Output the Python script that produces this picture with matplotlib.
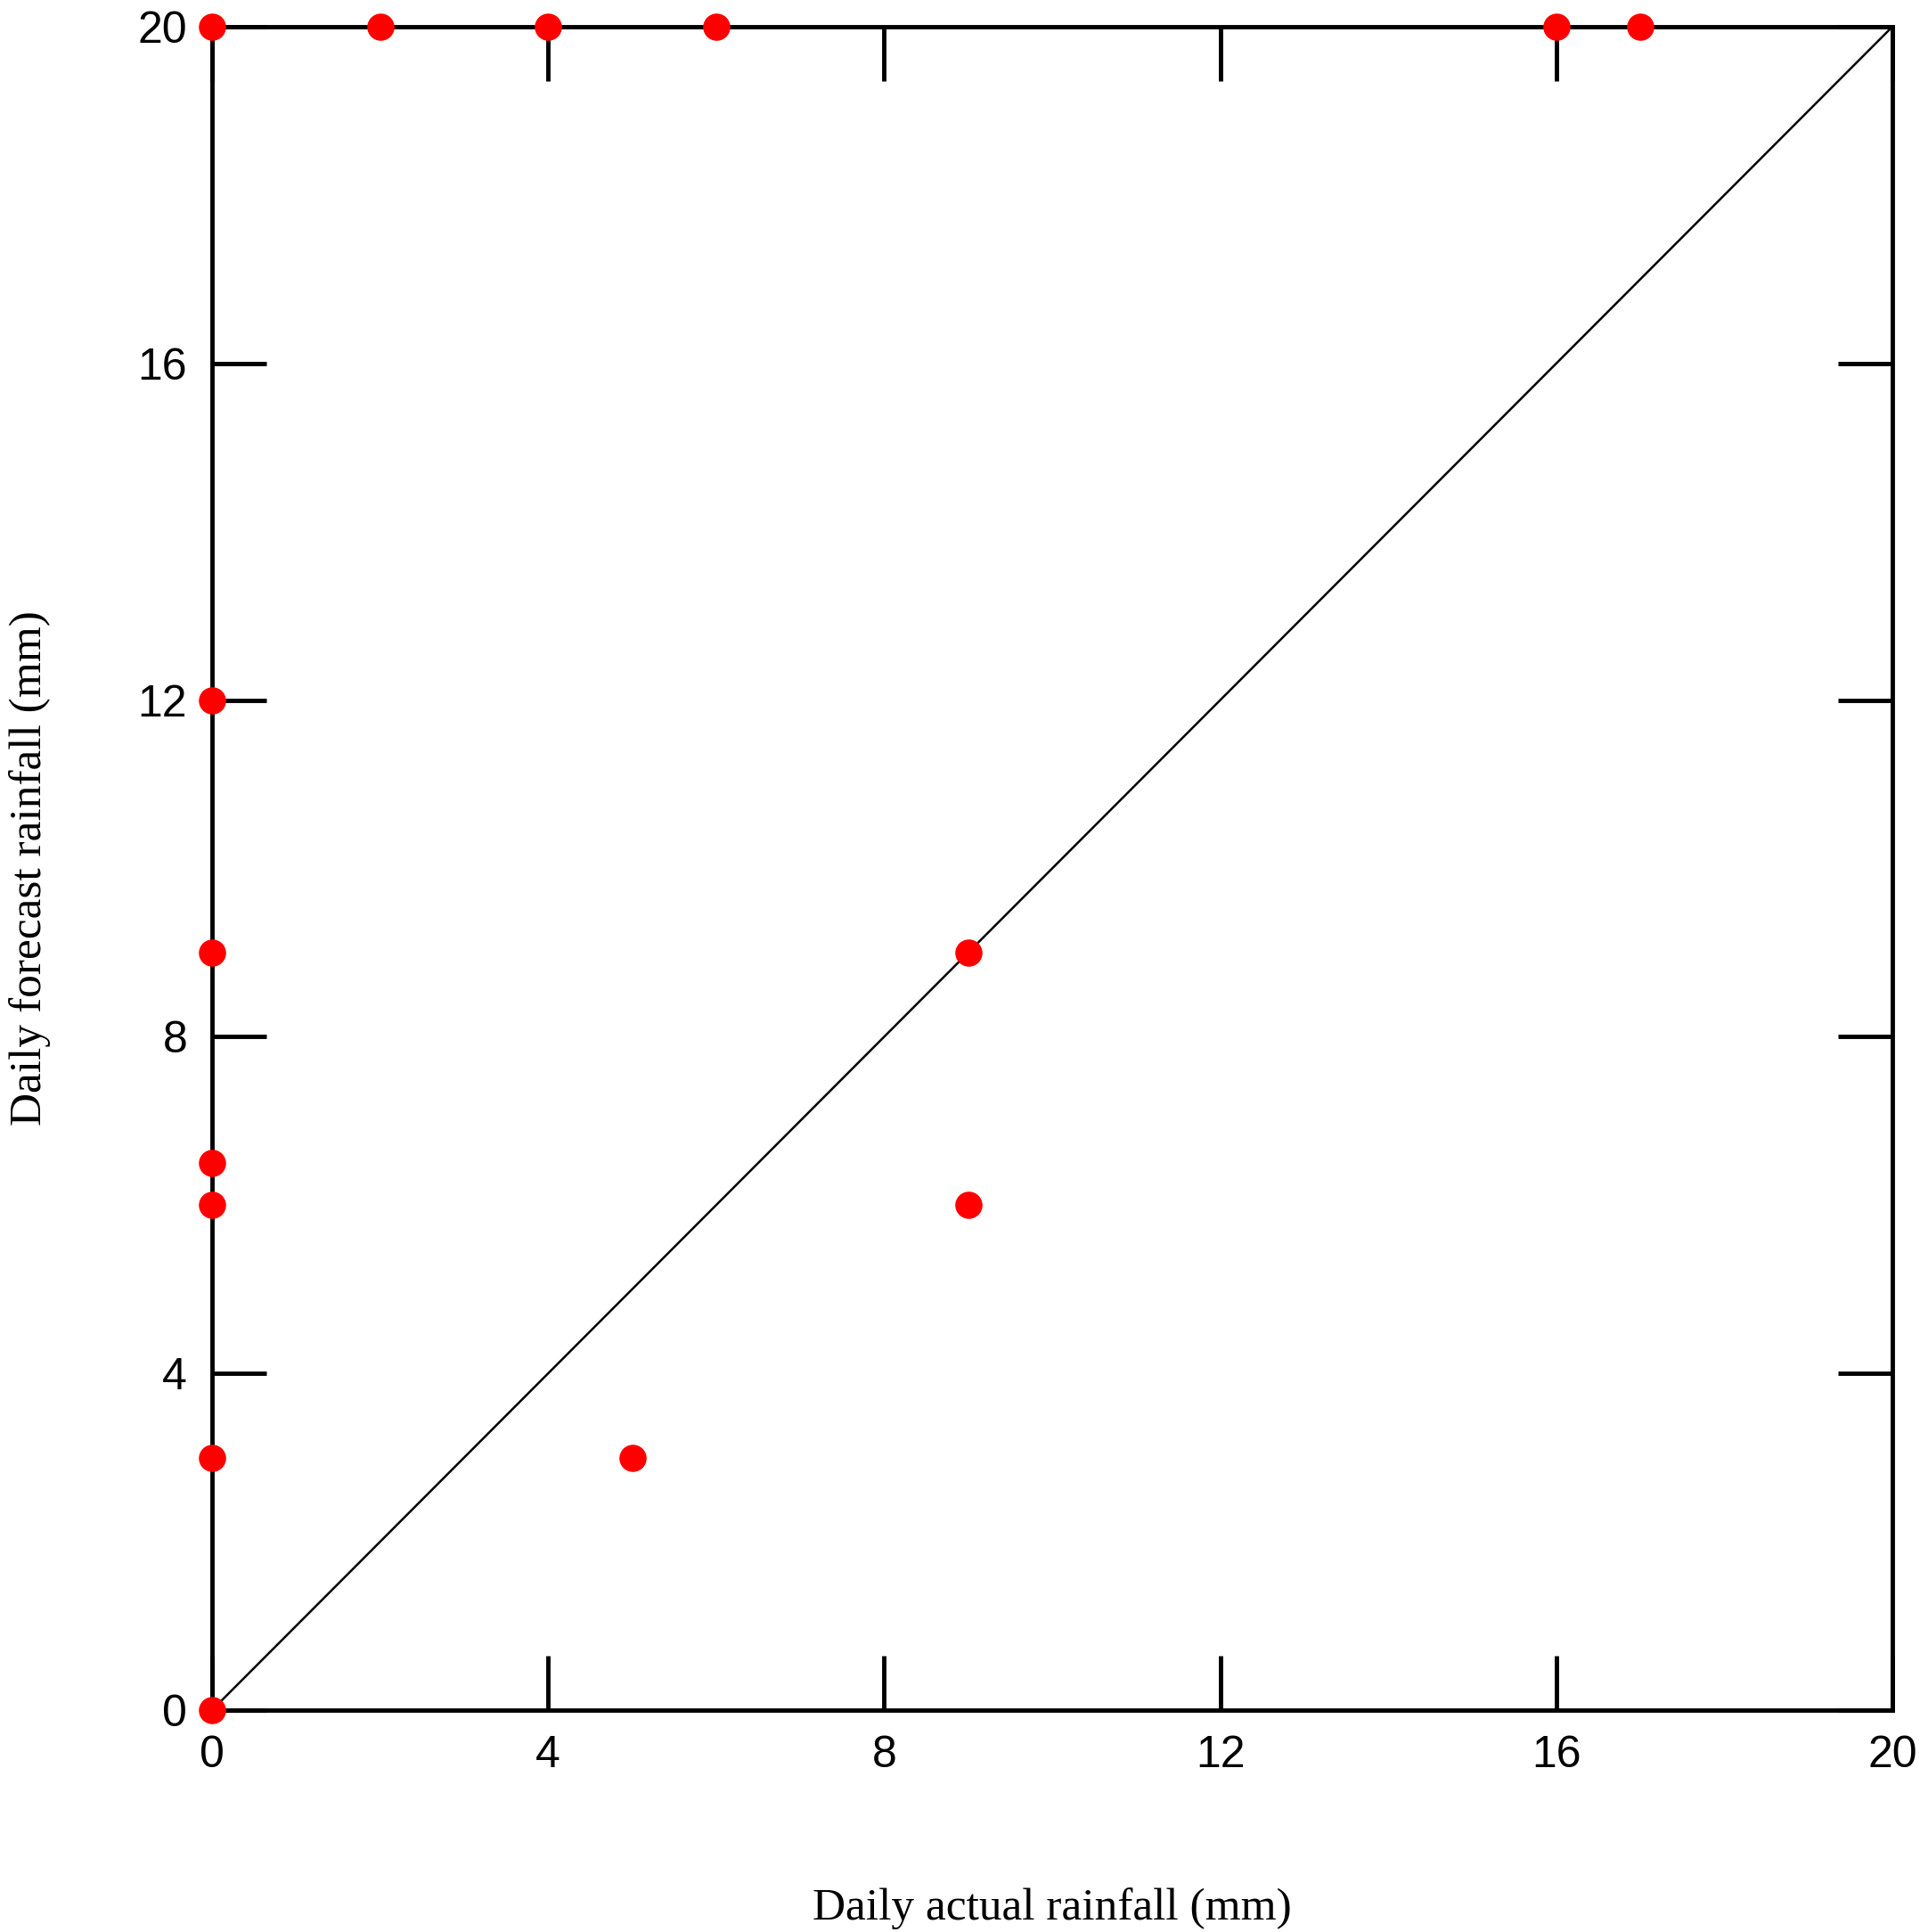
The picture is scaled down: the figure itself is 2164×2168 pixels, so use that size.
import matplotlib
matplotlib.use("Agg")
import matplotlib.pyplot as plt

# scatter data: actual vs forecast daily rainfall (mm)
actual   = [0, 0, 0, 0, 0, 0, 0, 2, 4, 6, 16, 17, 9, 9, 5]
forecast = [20, 12, 9, 6.5, 6, 3, 0, 20, 20, 20, 20, 20, 9, 6, 3]
ticks = [0, 4, 8, 12, 16, 20]

fig = plt.figure(figsize=(21.64, 21.68), dpi=100)
ax = fig.add_axes([238 / 2164, 1 - 1919 / 2168, (2124 - 238) / 2164, (1919 - 30) / 2168])

ax.plot([0, 20], [0, 20], color="black", lw=1.8, zorder=2)
ax.scatter(actual, forecast, s=440, color="#ff0000", zorder=3, clip_on=False)

ax.set_xlim(0, 20)
ax.set_ylim(0, 20)
ax.set_xticks(ticks)
ax.set_yticks(ticks)
ax.tick_params(direction="in", length=44, width=3.5, top=True, right=True,
               labelsize=36, pad=20)
for lab in ax.get_xticklabels() + ax.get_yticklabels():
    lab.set_family("Liberation Sans")
for s in ax.spines.values():
    s.set_linewidth(3.5)

ax.set_xlabel("Daily actual rainfall (mm)", family="Liberation Serif", fontsize=37, labelpad=90)
ax.set_ylabel("Daily forecast rainfall (mm)", family="Liberation Serif", fontsize=37, labelpad=70)

fig.savefig("out.png", dpi=100)
